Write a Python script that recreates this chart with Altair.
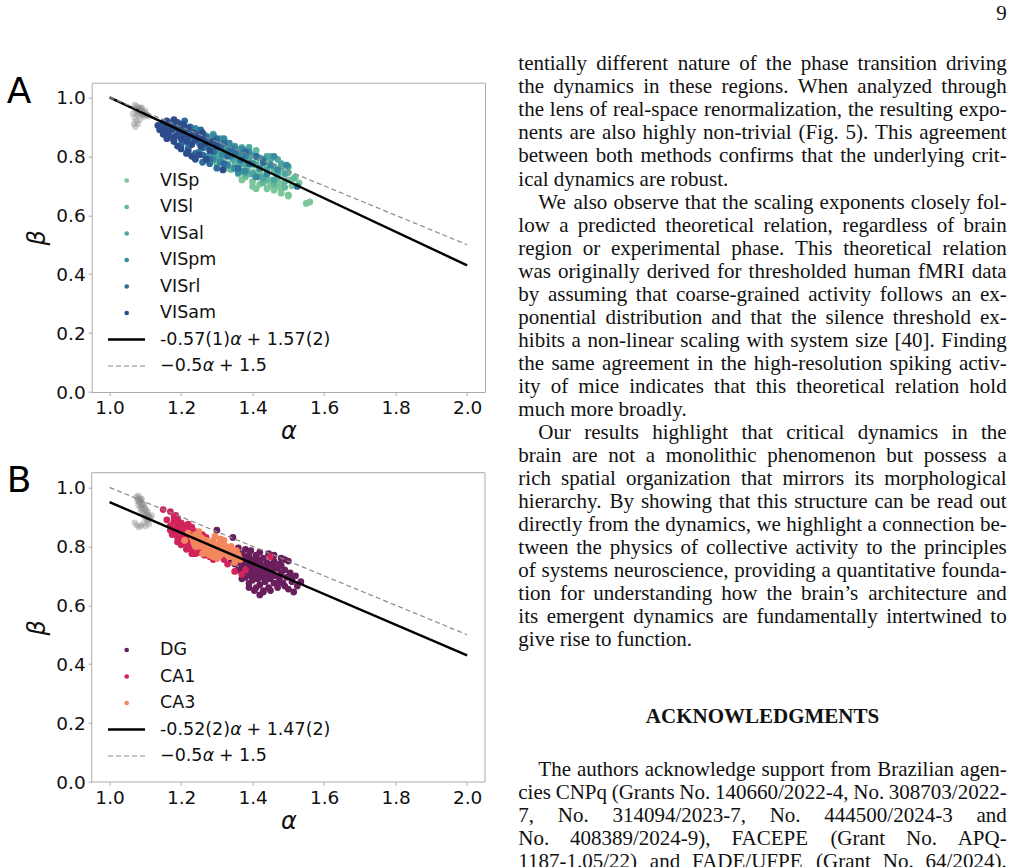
import altair as alt
import pandas as pd

# ----------------------------------------------------------------------
# Panel A: scaling exponents (alpha, beta) of the visual cortical areas
# ----------------------------------------------------------------------
A_REGIONS = ["VISp", "VISl", "VISal", "VISpm", "VISrl", "VISam"]
A_COLORS = ["#7cc69b", "#64b89d", "#4ea6a0", "#37899f", "#2d6d9b", "#2c4c8b"]

VISP_ALPHA = [1.27, 1.29, 1.30, 1.31, 1.32, 1.33, 1.34, 1.35, 1.36, 1.365,
              1.37, 1.38, 1.39, 1.40, 1.405, 1.41, 1.42, 1.43, 1.435, 1.44,
              1.45, 1.46, 1.47, 1.48, 1.49, 1.50, 1.51, 1.52, 1.55, 1.56,
              1.40, 1.36, 1.45, 1.33, 1.48, 1.53, 1.47, 1.50,
              1.38, 1.40, 1.42, 1.44, 1.46, 1.48, 1.50, 1.36, 1.34, 1.42,
              1.45, 1.39, 1.43, 1.47, 1.41, 1.37]
VISP_BETA = [0.835, 0.81, 0.79, 0.825, 0.80, 0.775, 0.81, 0.785, 0.765, 0.80,
             0.78, 0.755, 0.79, 0.77, 0.745, 0.78, 0.755, 0.73, 0.77, 0.745,
             0.72, 0.755, 0.735, 0.705, 0.745, 0.72, 0.70, 0.73, 0.64, 0.645,
             0.698, 0.74, 0.70, 0.76, 0.69, 0.71, 0.698, 0.669,
             0.73, 0.715, 0.705, 0.69, 0.685, 0.675, 0.665, 0.745, 0.76, 0.74,
             0.71, 0.74, 0.72, 0.715, 0.69, 0.72]

VISL_ALPHA = [1.24, 1.26, 1.27, 1.28, 1.29, 1.30, 1.31, 1.32, 1.33, 1.34,
              1.35, 1.355, 1.36, 1.37, 1.38, 1.385, 1.39, 1.40, 1.41, 1.42,
              1.43, 1.44, 1.45, 1.46, 1.47, 1.48, 1.49, 1.50, 1.515, 1.35,
              1.40, 1.44, 1.32, 1.28,
              1.30, 1.32, 1.34, 1.36, 1.38, 1.43, 1.46, 1.49, 1.41, 1.29,
              1.37, 1.45]
VISL_BETA = [0.87, 0.85, 0.835, 0.865, 0.82, 0.845, 0.83, 0.80, 0.84, 0.815,
             0.79, 0.825, 0.805, 0.78, 0.81, 0.76, 0.795, 0.775, 0.80, 0.755,
             0.785, 0.74, 0.77, 0.75, 0.73, 0.76, 0.715, 0.745, 0.725, 0.77,
             0.745, 0.72, 0.775, 0.80,
             0.775, 0.765, 0.755, 0.745, 0.735, 0.71, 0.705, 0.695, 0.82, 0.79,
             0.83, 0.80]

VISAL_ALPHA = [1.22, 1.24, 1.25, 1.26, 1.27, 1.28, 1.29, 1.30, 1.305, 1.31,
               1.32, 1.33, 1.34, 1.345, 1.35, 1.36, 1.37, 1.375, 1.38, 1.39,
               1.40, 1.41, 1.42, 1.43, 1.44, 1.45, 1.46, 1.47, 1.48, 1.49,
               1.50, 1.38, 1.42, 1.30,
               1.28, 1.31, 1.33, 1.35, 1.37, 1.40, 1.43, 1.46, 1.39, 1.44,
               1.29, 1.47]
VISAL_BETA = [0.88, 0.86, 0.875, 0.845, 0.87, 0.83, 0.855, 0.84, 0.815, 0.86,
              0.83, 0.845, 0.81, 0.79, 0.835, 0.815, 0.80, 0.775, 0.82, 0.79,
              0.805, 0.77, 0.795, 0.78, 0.755, 0.79, 0.765, 0.745, 0.775, 0.74,
              0.765, 0.745, 0.73, 0.80,
              0.80, 0.785, 0.77, 0.76, 0.75, 0.74, 0.725, 0.72, 0.83, 0.80,
              0.875, 0.79]

VISPM_ALPHA = [1.18, 1.20, 1.21, 1.22, 1.23, 1.24, 1.25, 1.26, 1.265, 1.27,
               1.28, 1.29, 1.295, 1.30, 1.31, 1.315, 1.32, 1.33, 1.335, 1.34,
               1.35, 1.36, 1.365, 1.37, 1.38, 1.39, 1.40, 1.41, 1.42, 1.43,
               1.45, 1.47, 1.495, 1.36,
               1.22, 1.25, 1.27, 1.29, 1.31, 1.33, 1.35, 1.38, 1.41, 1.44,
               1.24, 1.46]
VISPM_BETA = [0.90, 0.88, 0.895, 0.86, 0.885, 0.87, 0.845, 0.875, 0.83, 0.86,
              0.845, 0.87, 0.82, 0.85, 0.835, 0.805, 0.86, 0.82, 0.845, 0.80,
              0.83, 0.81, 0.785, 0.825, 0.80, 0.815, 0.775, 0.80, 0.76, 0.79,
              0.77, 0.755, 0.77, 0.745,
              0.83, 0.815, 0.80, 0.79, 0.78, 0.77, 0.76, 0.75, 0.73, 0.74,
              0.895, 0.80]

VISRL_ALPHA = [1.145, 1.155, 1.165, 1.175, 1.185, 1.19, 1.20, 1.21, 1.215, 1.225,
               1.23, 1.24, 1.245, 1.255, 1.26, 1.27, 1.275, 1.285, 1.29, 1.30,
               1.31, 1.32, 1.33, 1.34, 1.35, 1.37, 1.39, 1.41, 1.525, 1.28,
               1.30, 1.26,
               1.16, 1.18, 1.20, 1.22, 1.24, 1.26, 1.28, 1.32, 1.36, 1.38,
               1.43, 1.21]
VISRL_BETA = [0.90, 0.91, 0.885, 0.915, 0.895, 0.87, 0.905, 0.885, 0.86, 0.90,
              0.845, 0.875, 0.855, 0.89, 0.83, 0.865, 0.84, 0.85, 0.815, 0.86,
              0.83, 0.845, 0.80, 0.825, 0.81, 0.79, 0.775, 0.80, 0.698, 0.775,
              0.76, 0.805,
              0.87, 0.855, 0.84, 0.825, 0.81, 0.78, 0.79, 0.775, 0.76, 0.815,
              0.78, 0.92]

VISAM_ALPHA = [1.135, 1.14, 1.15, 1.155, 1.16, 1.165, 1.17, 1.175, 1.18, 1.185,
               1.19, 1.195, 1.20, 1.205, 1.21, 1.215, 1.22, 1.225, 1.23, 1.235,
               1.24, 1.25, 1.255, 1.26, 1.27, 1.28, 1.29, 1.30, 1.215, 1.24,
               1.317, 1.17,
               1.15, 1.16, 1.18, 1.19, 1.20, 1.22, 1.23, 1.25, 1.27, 1.19,
               1.21, 1.26]
VISAM_BETA = [0.905, 0.89, 0.915, 0.895, 0.92, 0.88, 0.905, 0.89, 0.925, 0.87,
              0.90, 0.885, 0.86, 0.91, 0.875, 0.85, 0.895, 0.868, 0.84, 0.88,
              0.855, 0.87, 0.835, 0.86, 0.845, 0.82, 0.85, 0.835, 0.81, 0.79,
              0.754, 0.865,
              0.875, 0.86, 0.85, 0.835, 0.825, 0.815, 0.80, 0.805, 0.79, 0.915,
              0.90, 0.88]

A_GRAY_ALPHA = [1.07, 1.075, 1.08, 1.085, 1.09, 1.078, 1.083, 1.09, 1.095, 1.10,
                1.088, 1.093, 1.098, 1.105, 1.11, 1.072, 1.08, 1.07, 1.075, 1.068,
                1.08, 1.072, 1.085, 1.10, 1.065, 1.082, 1.092, 1.076, 1.087, 1.097]
A_GRAY_BETA = [0.975, 0.97, 0.965, 0.96, 0.965, 0.955, 0.95, 0.955, 0.95, 0.945,
               0.945, 0.94, 0.935, 0.94, 0.935, 0.96, 0.94, 0.93, 0.92, 0.91,
               0.91, 0.90, 0.925, 0.955, 0.945, 0.958, 0.948, 0.945, 0.965, 0.942]

A_FIT = (-0.57, 1.57)
A_FIT_LABEL = ("-0.57(1)", "α", "+ 1.57(2)")

# ----------------------------------------------------------------------
# Panel B: hippocampal areas
# ----------------------------------------------------------------------
B_REGIONS = ["DG", "CA1", "CA3"]
B_COLORS = ["#6a1f5d", "#d0245a", "#f3875d"]

DG_ALPHA = [1.30, 1.345, 1.35, 1.355, 1.36, 1.365, 1.37, 1.37, 1.375, 1.38,
            1.38, 1.385, 1.39, 1.39, 1.395, 1.40, 1.40, 1.40, 1.405, 1.41,
            1.41, 1.415, 1.415, 1.42, 1.42, 1.42, 1.425, 1.43, 1.43, 1.435,
            1.435, 1.44, 1.44, 1.445, 1.45, 1.45, 1.455, 1.46, 1.46, 1.465,
            1.47, 1.47, 1.475, 1.48, 1.48, 1.485, 1.49, 1.495, 1.50, 1.505,
            1.51, 1.515, 1.52, 1.535, 1.42, 1.43, 1.39, 1.405, 1.36, 1.35,
            1.38, 1.395, 1.445, 1.46, 1.49, 1.50, 1.33, 1.34, 1.325, 1.41,
            1.425, 1.44, 1.455, 1.415, 1.37, 1.40, 1.43, 1.45, 1.39, 1.475,
            1.37, 1.39, 1.41, 1.43, 1.45, 1.47, 1.49, 1.51, 1.44, 1.40,
            1.46, 1.36, 1.42, 1.48, 1.525, 1.38]
DG_BETA = [0.855, 0.83, 0.78, 0.76, 0.795, 0.745, 0.775, 0.73, 0.76, 0.79,
           0.745, 0.715, 0.77, 0.735, 0.70, 0.755, 0.72, 0.685, 0.74, 0.705,
           0.77, 0.725, 0.69, 0.75, 0.71, 0.67, 0.735, 0.695, 0.76, 0.72,
           0.68, 0.745, 0.705, 0.66, 0.73, 0.69, 0.715, 0.75, 0.675, 0.70,
           0.725, 0.66, 0.69, 0.76, 0.71, 0.675, 0.72, 0.695, 0.655, 0.71,
           0.68, 0.645, 0.70, 0.68, 0.635, 0.645, 0.66, 0.65, 0.72, 0.74,
           0.695, 0.785, 0.775, 0.77, 0.755, 0.75, 0.77, 0.755, 0.79, 0.735,
           0.70, 0.725, 0.74, 0.755, 0.71, 0.70, 0.73, 0.705, 0.75, 0.74,
           0.69, 0.675, 0.66, 0.65, 0.65, 0.675, 0.665, 0.69, 0.69, 0.73,
           0.73, 0.765, 0.78, 0.735, 0.665, 0.765]

CA1_ALPHA = [1.15, 1.17, 1.17, 1.18, 1.18, 1.185, 1.19, 1.19, 1.195, 1.20,
             1.20, 1.20, 1.205, 1.21, 1.21, 1.21, 1.215, 1.22, 1.22, 1.225,
             1.225, 1.23, 1.23, 1.23, 1.235, 1.24, 1.24, 1.245, 1.25, 1.25,
             1.255, 1.26, 1.26, 1.265, 1.27, 1.275, 1.28, 1.285, 1.29, 1.30,
             1.31, 1.32, 1.35, 1.37, 1.38, 1.45, 1.18, 1.19, 1.215, 1.24,
             1.20, 1.175, 1.33, 1.30, 1.27,
             1.16, 1.17, 1.19, 1.21, 1.23, 1.25, 1.27, 1.28, 1.22, 1.26,
             1.29, 1.185]
CA1_BETA = [0.925, 0.918, 0.87, 0.885, 0.86, 0.845, 0.875, 0.83, 0.86, 0.88,
            0.85, 0.82, 0.835, 0.87, 0.845, 0.81, 0.86, 0.83, 0.80, 0.85,
            0.815, 0.865, 0.84, 0.79, 0.82, 0.85, 0.80, 0.835, 0.81, 0.78,
            0.825, 0.795, 0.84, 0.77, 0.81, 0.785, 0.765, 0.80, 0.775, 0.76,
            0.79, 0.755, 0.715, 0.705, 0.72, 0.765, 0.90, 0.895, 0.79, 0.775,
            0.805, 0.84, 0.74, 0.80, 0.83,
            0.89, 0.855, 0.815, 0.825, 0.775, 0.795, 0.775, 0.785, 0.875, 0.81,
            0.755, 0.905]

CA3_ALPHA = [1.22, 1.23, 1.235, 1.24, 1.245, 1.25, 1.255, 1.26, 1.265, 1.27,
             1.27, 1.275, 1.28, 1.285, 1.29, 1.29, 1.295, 1.30, 1.305, 1.31,
             1.31, 1.315, 1.32, 1.325, 1.33, 1.335, 1.34, 1.345, 1.35, 1.355,
             1.36, 1.26, 1.28, 1.30, 1.25, 1.295, 1.32, 1.365, 1.21, 1.275,
             1.24, 1.27, 1.30, 1.33, 1.36, 1.29, 1.31, 1.34, 1.26, 1.35]
CA3_BETA = [0.845, 0.83, 0.815, 0.84, 0.82, 0.80, 0.83, 0.81, 0.79, 0.82,
            0.80, 0.775, 0.81, 0.79, 0.82, 0.80, 0.78, 0.805, 0.79, 0.77,
            0.81, 0.795, 0.78, 0.80, 0.785, 0.765, 0.79, 0.775, 0.76, 0.785,
            0.77, 0.775, 0.77, 0.76, 0.85, 0.835, 0.82, 0.755, 0.82, 0.80,
            0.80, 0.785, 0.775, 0.77, 0.76, 0.765, 0.825, 0.80, 0.825, 0.745]

B_GRAY_ALPHA = [1.075, 1.08, 1.085, 1.09, 1.078, 1.083, 1.088, 1.093, 1.097, 1.08,
                1.086, 1.092, 1.10, 1.105, 1.09, 1.095, 1.102, 1.108, 1.112, 1.098,
                1.104, 1.11, 1.115, 1.118, 1.07, 1.076, 1.082, 1.088, 1.095, 1.10,
                1.105, 1.11, 1.084, 1.091, 1.099, 1.106, 1.079, 1.087]
B_GRAY_BETA = [0.968, 0.972, 0.965, 0.96, 0.955, 0.95, 0.958, 0.945, 0.94, 0.94,
               0.935, 0.93, 0.925, 0.92, 0.915, 0.91, 0.908, 0.905, 0.90, 0.90,
               0.895, 0.89, 0.895, 0.905, 0.88, 0.872, 0.865, 0.87, 0.878, 0.868,
               0.885, 0.875, 0.952, 0.942, 0.93, 0.915, 0.962, 0.925]

B_FIT = (-0.52, 1.47)
B_FIT_LABEL = ("-0.52(2)", "α", "+ 1.47(2)")

# theoretical relation beta = -alpha/2 + 3/2, shared by both panels
THEORY = (-0.5, 1.5)
THEORY_LABEL = ("\u22120.5", "α", "+ 1.5")
LINE_SPAN = [1.0, 2.0]

X_DOMAIN = [0.95, 2.05]
Y_DOMAIN = [0.0, 1.05]
X_TICKS = [1.0, 1.2, 1.4, 1.6, 1.8, 2.0]
Y_TICKS = [0.0, 0.2, 0.4, 0.6, 0.8, 1.0]

# ----------------------------------------------------------------------
# Text column
# ----------------------------------------------------------------------
PAGE_NUMBER = "9"
BODY_PARAGRAPHS = [
    (False, True, [
        "tentially different nature of the phase transition driving",
        "the dynamics in these regions. When analyzed through",
        "the lens of real-space renormalization, the resulting expo-",
        "nents are also highly non-trivial (Fig. 5). This agreement",
        "between both methods confirms that the underlying crit-",
        "ical dynamics are robust.",
    ]),
    (True, True, [
        "We also observe that the scaling exponents closely fol-",
        "low a predicted theoretical relation, regardless of brain",
        "region or experimental phase. This theoretical relation",
        "was originally derived for thresholded human fMRI data",
        "by assuming that coarse-grained activity follows an ex-",
        "ponential distribution and that the silence threshold ex-",
        "hibits a non-linear scaling with system size [40]. Finding",
        "the same agreement in the high-resolution spiking activ-",
        "ity of mice indicates that this theoretical relation hold",
        "much more broadly.",
    ]),
    (True, True, [
        "Our results highlight that critical dynamics in the",
        "brain are not a monolithic phenomenon but possess a",
        "rich spatial organization that mirrors its morphological",
        "hierarchy. By showing that this structure can be read out",
        "directly from the dynamics, we highlight a connection be-",
        "tween the physics of collective activity to the principles",
        "of systems neuroscience, providing a quantitative founda-",
        "tion for understanding how the brain\u2019s architecture and",
        "its emergent dynamics are fundamentally intertwined to",
        "give rise to function.",
    ]),
]
ACK_TITLE = "ACKNOWLEDGMENTS"
ACK_LINES = [
    "The authors acknowledge support from Brazilian agen-",
    "cies CNPq (Grants No. 140660/2022-4, No. 308703/2022-",
    "7, No. 314094/2023-7, No. 444500/2024-3 and",
    "No. 408389/2024-9), FACEPE (Grant No. APQ-",
    "1187-1.05/22) and FADE/UFPE (Grant No. 64/2024).",
]

# ----------------------------------------------------------------------
# Layout and style
# ----------------------------------------------------------------------
PAGE_W, PAGE_H = 1014, 867
W, H = 393.3, 309.3          # plot area of one panel
OX, OY = 91.7, 82.7          # page position of panel A's plot area
B_SHIFT = 390.0              # panel B sits this far below panel A

SANS = "DejaVu Sans"
SERIF = "Liberation Serif"
SPINE = "#ababab"
INK = "#111111"
TICK_FS = 18.5
LEGEND_FS = 17.5
TITLE_FS = 24
POINT_SIZE = 46

LEG_BOTTOM = 283.3           # legend row of the dashed line (panel coords)
LEG_STEP = 26.5
LEG_DOT_X = 35.0
LEG_TEXT_X = 68.3
LEG_LINE_X = (16.3, 53.3)

COL_LEFT, COL_RIGHT = 518.3, 1006.7
PARINDENT = 20.0
BODY_FS = 21.0
LINE_SKIP = 23.04
BODY_BASELINE0 = 70.3
ACK_TITLE_BASELINE = 722.7
ACK_BASELINE0 = 776.0

# Times-compatible advance widths (1/1000 em) for justifying the column
_TIMES = {" ": 250, ".": 250, ",": 250, "-": 333, "(": 333, ")": 333, "[": 333,
          "]": 333, "/": 278, ":": 278, ";": 278, "\u2019": 333}
_TIMES.update({d: 500 for d in "0123456789"})
_TIMES.update(dict(zip("abcdefghijklmnopqrstuvwxyz",
                       [444, 500, 444, 500, 444, 333, 500, 500, 278, 278, 500, 278, 778,
                        500, 500, 500, 500, 333, 389, 278, 500, 500, 722, 500, 500, 444])))
_TIMES.update(dict(zip("ABCDEFGHIJKLMNOPQRSTUVWXYZ",
                       [722, 667, 667, 722, 611, 556, 722, 722, 333, 389, 722, 611, 889,
                        722, 722, 556, 722, 667, 556, 611, 722, 722, 944, 722, 722, 611])))

# DejaVu Sans advance widths (em) for the legend formulas
_DEJAVU = {"-": 0.361, "\u2212": 0.838, "+": 0.838, " ": 0.318, ".": 0.318,
           "(": 0.390, ")": 0.390}
_DEJAVU.update({d: 0.636 for d in "0123456789"})
ALPHA_ITALIC_EM = 0.659


def serif_width(s):
    return sum(_TIMES.get(c, 500) for c in s) / 1000.0 * BODY_FS


def sans_width(s):
    return sum(_DEJAVU.get(c, 0.6) for c in s) * LEGEND_FS


def layout_line(line, x0, x1, baseline, justify):
    words = line.split(" ")
    widths = [serif_width(w) for w in words]
    if justify and len(words) > 1:
        gap = (x1 - x0 - sum(widths)) / (len(words) - 1)
    else:
        gap = serif_width(" ")
    rows, x = [], x0
    for w, wd in zip(words, widths):
        rows.append({"word": w, "px": x, "py": baseline})
        x += wd + gap
    return rows


def layout_paragraph(lines, indent, ends, baseline0):
    rows = []
    for i, line in enumerate(lines):
        x0 = COL_LEFT + (PARINDENT if (indent and i == 0) else 0.0)
        justify = not (ends and i == len(lines) - 1)
        rows += layout_line(line, x0, COL_RIGHT, baseline0 + i * LINE_SKIP, justify)
    return rows


# ----------------------------------------------------------------------
# Chart pieces
# ----------------------------------------------------------------------
def region_frame(names, alphas, betas):
    parts = [pd.DataFrame({"alpha": a, "beta": b, "region": n})
             for n, a, b in zip(names, alphas, betas)]
    return pd.concat(parts, ignore_index=True)


def line_frame(slope, intercept):
    return pd.DataFrame({"alpha": LINE_SPAN,
                         "beta": [slope * a + intercept for a in LINE_SPAN]})


def x_axis(offset):
    return alt.Axis(orient="bottom", offset=offset, values=X_TICKS, format=".1f",
                    grid=False, domain=False, tickColor=SPINE, tickSize=3.5, tickWidth=1,
                    labelFont=SANS, labelFontSize=TICK_FS, labelColor=INK, labelPadding=3.0,
                    labelFlush=False, labelOverlap=False, labelBound=False,
                    title="α", titleFont=SANS, titleFontSize=TITLE_FS, titleFontStyle="italic",
                    titleFontWeight="normal", titleColor=INK, titleX=W / 2, titleY=39.2,
                    titleAlign="center", titleBaseline="middle")


def y_axis(center):
    return alt.Axis(orient="left", values=Y_TICKS, format=".1f",
                    grid=False, domain=False, tickColor=SPINE, tickSize=3.5, tickWidth=1,
                    labelFont=SANS, labelFontSize=TICK_FS, labelColor=INK, labelPadding=3.0,
                    labelFlush=False, labelOverlap=False, labelBound=False,
                    title="β", titleFont=SANS, titleFontSize=TITLE_FS, titleFontStyle="italic",
                    titleFontWeight="normal", titleColor=INK, titleX=-54, titleY=center,
                    titleAngle=-90, titleAlign="center", titleBaseline="middle")


def panel(points, gray, names, colors, fit, shift):
    x_enc = alt.X("alpha:Q", scale=alt.Scale(domain=X_DOMAIN, nice=False, zero=False),
                  axis=x_axis(shift))
    y_enc = alt.Y("beta:Q", scale=alt.Scale(domain=Y_DOMAIN, range=[H + shift, shift],
                                            nice=False, zero=False),
                  axis=y_axis(shift + H / 2))
    layers = []
    if shift:
        box = pd.DataFrame({"alpha": [X_DOMAIN[0]], "alpha2": [X_DOMAIN[1]],
                            "beta": [Y_DOMAIN[0]], "beta2": [Y_DOMAIN[1]]})
        layers.append(alt.Chart(box).mark_rect(filled=False, color=SPINE, strokeWidth=1)
                      .encode(x=x_enc, x2=alt.X2("alpha2"), y=y_enc, y2=alt.Y2("beta2")))
    layers.append(alt.Chart(gray).mark_circle(size=40, color="#858585", opacity=0.38)
                  .encode(x=x_enc, y=y_enc))
    layers.append(alt.Chart(points).mark_circle(size=POINT_SIZE, opacity=1)
                  .encode(x=x_enc, y=y_enc,
                          color=alt.Color("region:N", legend=None,
                                          scale=alt.Scale(domain=names, range=colors))))
    layers.append(alt.Chart(line_frame(*fit)).mark_line(color="#000000", strokeWidth=2.4)
                  .encode(x=x_enc, y=y_enc))
    layers.append(alt.Chart(line_frame(*THEORY))
                  .mark_line(color="#8a8a8a", strokeWidth=1.2, strokeDash=[5, 3])
                  .encode(x=x_enc, y=y_enc))
    return alt.layer(*layers)


def legend(names, colors, fit_label, shift):
    n = len(names)
    row_scale = alt.Scale(domain=[0, 1], range=[LEG_BOTTOM + shift, LEG_BOTTOM + shift - LEG_STEP],
                          nice=False, zero=False)
    y_row = alt.Y("k:Q", scale=row_scale, axis=None)
    px = alt.Scale(domain=[0, 1], range=[0, 1], nice=False, zero=False)

    regions = pd.DataFrame({"region": names, "k": [n + 1 - i for i in range(n)]})
    dots = alt.Chart(regions).mark_circle(size=22, opacity=1).encode(
        x=alt.value(LEG_DOT_X), y=y_row,
        color=alt.Color("region:N", legend=None, scale=alt.Scale(domain=names, range=colors)))
    names_txt = alt.Chart(regions).mark_text(
        align="left", baseline="middle", font=SANS, fontSize=LEGEND_FS, color=INK
    ).encode(x=alt.value(LEG_TEXT_X), y=y_row, text="region:N")

    fit_row = alt.Chart(pd.DataFrame({"k": [1]})).mark_rule(color="#000000", strokeWidth=2.4).encode(
        x=alt.value(LEG_LINE_X[0]), x2=alt.value(LEG_LINE_X[1]), y=y_row)
    theory_row = alt.Chart(pd.DataFrame({"k": [0]})).mark_rule(
        color="#8a8a8a", strokeWidth=1.2, strokeDash=[5, 3]).encode(
        x=alt.value(LEG_LINE_X[0]), x2=alt.value(LEG_LINE_X[1]), y=y_row)

    # formula labels: upright numbers around an italic alpha
    plain, italic = [], []
    space = sans_width(" ")
    for k, (head, sym, tail) in ((1, fit_label), (0, THEORY_LABEL)):
        x_sym = LEG_TEXT_X + sans_width(head) + 0.3
        x_tail = x_sym + ALPHA_ITALIC_EM * LEGEND_FS + space - 1.0
        plain += [{"t": head, "x": LEG_TEXT_X, "k": k}, {"t": tail, "x": x_tail, "k": k}]
        italic.append({"t": sym, "x": x_sym, "k": k})
    plain_txt = alt.Chart(pd.DataFrame(plain)).mark_text(
        align="left", baseline="middle", font=SANS, fontSize=LEGEND_FS, color=INK
    ).encode(x=alt.X("x:Q", scale=px, axis=None), y=y_row, text="t:N")
    italic_txt = alt.Chart(pd.DataFrame(italic)).mark_text(
        align="left", baseline="middle", font=SANS, fontSize=LEGEND_FS, fontStyle="italic", color=INK
    ).encode(x=alt.X("x:Q", scale=px, axis=None), y=y_row, text="t:N")
    return [dots, names_txt, fit_row, theory_row, plain_txt, italic_txt]


def panel_letter(letter, y):
    return alt.Chart(pd.DataFrame({"t": [letter]})).mark_text(
        align="left", baseline="alphabetic", font=SANS, fontSize=36, color="#000000"
    ).encode(x=alt.value(-85.0), y=alt.value(y), text="t:N")


# ----------------------------------------------------------------------
# Assemble
# ----------------------------------------------------------------------
a_points = region_frame(A_REGIONS,
                        [VISP_ALPHA, VISL_ALPHA, VISAL_ALPHA, VISPM_ALPHA, VISRL_ALPHA, VISAM_ALPHA],
                        [VISP_BETA, VISL_BETA, VISAL_BETA, VISPM_BETA, VISRL_BETA, VISAM_BETA])
a_gray = pd.DataFrame({"alpha": A_GRAY_ALPHA, "beta": A_GRAY_BETA})
b_points = region_frame(B_REGIONS, [DG_ALPHA, CA1_ALPHA, CA3_ALPHA], [DG_BETA, CA1_BETA, CA3_BETA])
b_gray = pd.DataFrame({"alpha": B_GRAY_ALPHA, "beta": B_GRAY_BETA})

panel_a = panel(a_points, a_gray, A_REGIONS, A_COLORS, A_FIT, 0.0)
panel_b = panel(b_points, b_gray, B_REGIONS, B_COLORS, B_FIT, B_SHIFT)

# body text of the right-hand column, laid out word by word
rows, row = [], 0
for indent, ends, lines in BODY_PARAGRAPHS:
    rows += layout_paragraph(lines, indent, ends, BODY_BASELINE0 + row * LINE_SKIP)
    row += len(lines)
rows += layout_paragraph(ACK_LINES, True, False, ACK_BASELINE0)
words = pd.DataFrame(rows)

page_x = alt.Scale(domain=[0, PAGE_W], range=[-OX, PAGE_W - OX], nice=False, zero=False)
page_y = alt.Scale(domain=[0, PAGE_H], range=[-OY, PAGE_H - OY], nice=False, zero=False)

body = alt.Chart(words).mark_text(
    align="left", baseline="alphabetic", font=SERIF, fontSize=BODY_FS, color=INK
).encode(x=alt.X("px:Q", scale=page_x, axis=None), y=alt.Y("py:Q", scale=page_y, axis=None),
         text="word:N")

heading = alt.Chart(pd.DataFrame({"t": [ACK_TITLE], "px": [(COL_LEFT + COL_RIGHT) / 2],
                                  "py": [ACK_TITLE_BASELINE]})).mark_text(
    align="center", baseline="alphabetic", font=SERIF, fontSize=BODY_FS, fontWeight="bold", color=INK
).encode(x=alt.X("px:Q", scale=page_x, axis=None), y=alt.Y("py:Q", scale=page_y, axis=None),
         text="t:N")

page_no = alt.Chart(pd.DataFrame({"t": [PAGE_NUMBER], "px": [COL_RIGHT], "py": [20.0]})).mark_text(
    align="right", baseline="alphabetic", font=SERIF, fontSize=BODY_FS, color=INK
).encode(x=alt.X("px:Q", scale=page_x, axis=None), y=alt.Y("py:Q", scale=page_y, axis=None),
         text="t:N")

chart = alt.layer(
    panel_a, panel_b,
    *legend(A_REGIONS, A_COLORS, A_FIT_LABEL, 0.0),
    *legend(B_REGIONS, B_COLORS, B_FIT_LABEL, B_SHIFT),
    panel_letter("A", 20.6), panel_letter("B", 409.0),
    body, heading, page_no,
).resolve_scale(
    x="independent", y="independent", color="independent"
).properties(
    width=W, height=H,
    padding={"left": OX, "top": OY, "right": PAGE_W - OX - W, "bottom": PAGE_H - OY - H},
    autosize=alt.AutoSizeParams(type="none"),
).configure_view(stroke=SPINE, strokeWidth=1)

chart.save("out.html", embed_options={"renderer": "svg", "actions": False})
